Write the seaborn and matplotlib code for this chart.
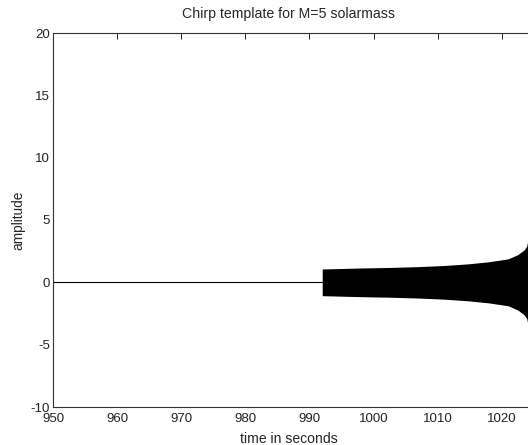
import numpy as np
import pandas as pd
import matplotlib
matplotlib.use('Agg')
import matplotlib.pyplot as plt
import seaborn as sns

# chirp envelope (time in s, half-amplitude)
env_time = [992, 998, 1003, 1007, 1011, 1014.7, 1018, 1021, 1022.5, 1023.5, 1023.9, 1024.1]
env_amp = [1.07, 1.15, 1.20, 1.26, 1.35, 1.48, 1.65, 1.88, 2.22, 2.6, 2.9, 3.4]

# flat part of the template before the chirp starts
flat_time = [950, 992]
flat_amp = [0, 0]

xticks = [950, 960, 970, 980, 990, 1000, 1010, 1020]
yticks = [-10, -5, 0, 5, 10, 15, 20]

sns.set_style('white')
plt.rcParams['font.family'] = ['Liberation Sans', 'DejaVu Sans']
plt.rcParams['axes.unicode_minus'] = False

fig = plt.figure(figsize=(5.28, 4.45), dpi=100)
# axes run past the right edge of the figure, as in the original
ax = fig.add_axes([53 / 528, 38 / 445, 80 * 6.41 / 528, 374 / 445])

flat = pd.DataFrame({'t': flat_time, 'a': flat_amp})
sns.lineplot(data=flat, x='t', y='a', color='black', linewidth=0.8, ax=ax)

env = pd.DataFrame({'t': env_time, 'a': env_amp})
ax.fill_between(env['t'], -env['a'], env['a'], color='black', linewidth=0)

ax.set_xlim(950, 1030)
ax.set_ylim(-10, 20)
ax.set_xticks(xticks)
ax.set_yticks(yticks)
ax.tick_params(direction='in', length=4, width=0.7, labelsize=9.5,
               top=True, right=True, colors='#222222')
ax.tick_params(axis='x', pad=4)
ax.tick_params(axis='y', pad=2)
for s in ax.spines.values():
    s.set_linewidth(0.8)
    s.set_color('#333333')

ax.set_xlabel('')
ax.set_ylabel('amplitude', fontsize=9.8, labelpad=4)
# title and x label centred on the visible part of the plot
fig.text(288 / 528, 1 - 14 / 445, 'Chirp template for M=5 solarmass',
         fontsize=10.2, ha='center', va='center')
fig.text(289 / 528, 1 - 439 / 445, 'time in seconds',
         fontsize=10.1, ha='center', va='center')

plt.savefig('out.png', dpi=100)
